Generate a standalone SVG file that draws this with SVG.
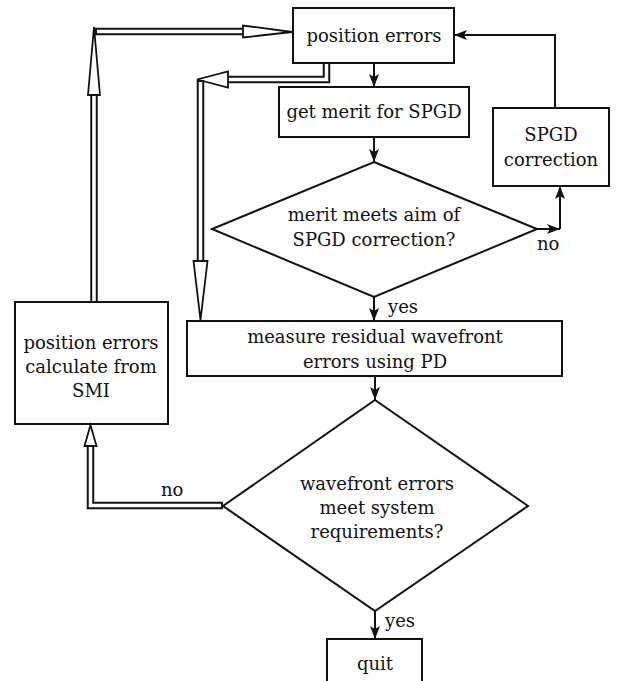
<svg xmlns="http://www.w3.org/2000/svg" width="618" height="681" viewBox="0 0 618 681">
<defs>
<marker id="ah" markerUnits="userSpaceOnUse" markerWidth="14" markerHeight="10" viewBox="0 0 14 10" refX="13" refY="5" orient="auto">
<path d="M0,0 L13,5 L0,10 L3,5 Z" fill="#111"/>
</marker>
</defs>
<style>
.box{fill:none;stroke:#111;stroke-width:2}
.dia{fill:none;stroke:#111;stroke-width:2}
.arr{fill:none;stroke:#111;stroke-width:2;marker-end:url(#ah)}
.dblo{fill:none;stroke:#111;stroke-width:7.5;stroke-linejoin:miter}
.dbli{fill:none;stroke:#fff;stroke-width:3.5;stroke-linejoin:miter}
.head{fill:#fff;stroke:#111;stroke-width:1.8;stroke-linejoin:miter}
</style>
<rect width="618" height="681" fill="#fff"/>
<g id="connectors">
<line class="arr" x1="374" y1="63" x2="374" y2="87"/>
<line class="arr" x1="374" y1="137" x2="374" y2="162"/>
<line class="arr" x1="374" y1="297" x2="374" y2="321"/>
<line class="arr" x1="537" y1="229" x2="560" y2="229"/>
<line class="arr" x1="560" y1="229" x2="560" y2="186"/>
<polyline class="arr" points="555,108 555,35 454,35"/>
<line class="arr" x1="375" y1="376" x2="375" y2="400"/>
<line class="arr" x1="375" y1="611" x2="375" y2="639"/>
<polyline class="dblo" points="223,505.5 90.5,505.5 90.5,446"/>
<polyline class="dbli" points="221,505.5 90.5,505.5 90.5,446"/>
<polygon class="head" points="84.5,446 96.5,446 90.5,425"/>
<polyline class="dblo" points="94,302 94,95"/>
<polyline class="dbli" points="94,302 94,95"/>
<polygon class="head" points="88,95 100,95 94,27"/>
<polyline class="dblo" points="95,31.5 243,31.5"/>
<polyline class="dbli" points="97,31.5 243,31.5"/>
<polygon class="head" points="243,25.5 243,37.5 292,32"/>
<polyline class="dblo" points="326.5,63 326.5,79.5 228,79.5"/>
<polyline class="dbli" points="326.5,63 326.5,79.5 228,79.5"/>
<polygon class="head" points="228,71.5 228,87.5 197,79.5"/>
<polyline class="dblo" points="200.5,80 200.5,261"/>
<polyline class="dbli" points="200.5,82 200.5,261"/>
<polygon class="head" points="193.5,261 207.5,261 200.5,320"/>
<g font-family="'DejaVu Serif', 'Liberation Serif', serif" font-size="18" fill="#111">
<text x="388" y="313">yes</text>
<text x="537" y="250">no</text>
<text x="161" y="496">no</text>
<text x="385" y="627">yes</text>
</g>
</g>
<g font-family="'DejaVu Serif', 'Liberation Serif', serif" font-size="18" fill="#111" text-anchor="middle">
<g id="n_position_errors">
<rect class="box" x="293" y="8" width="161" height="55"/>
<text x="374" y="42">position errors</text>
</g>
<g id="n_get_merit">
<rect class="box" x="279" y="87" width="190" height="50"/>
<text x="374" y="118">get merit for SPGD</text>
</g>
<g id="n_spgd_correction">
<rect class="box" x="493" y="108" width="116" height="78"/>
<text x="551" y="141">SPGD</text>
<text x="551" y="166">correction</text>
</g>
<g id="n_merit_meets">
<polygon class="dia" points="374,162 537,229 374,297 212,229"/>
<text x="374" y="221">merit meets aim of</text>
<text x="374" y="246">SPGD correction?</text>
</g>
<g id="n_measure">
<rect class="box" x="187" y="321" width="375" height="55"/>
<text x="375" y="343">measure residual wavefront</text>
<text x="375" y="368">errors using PD</text>
</g>
<g id="n_smi">
<rect class="box" x="15" y="302" width="153" height="122"/>
<text x="91" y="349">position errors</text>
<text x="91" y="373">calculate from</text>
<text x="91" y="397">SMI</text>
</g>
<g id="n_wavefront_meets">
<polygon class="dia" points="375,400 528,506 375,611 223,506"/>
<text x="377" y="490">wavefront errors</text>
<text x="377" y="514">meet system</text>
<text x="377" y="538">requirements?</text>
</g>
<g id="n_quit">
<rect class="box" x="327" y="639" width="95" height="60"/>
<text x="375" y="670">quit</text>
</g>
</g>
</svg>
